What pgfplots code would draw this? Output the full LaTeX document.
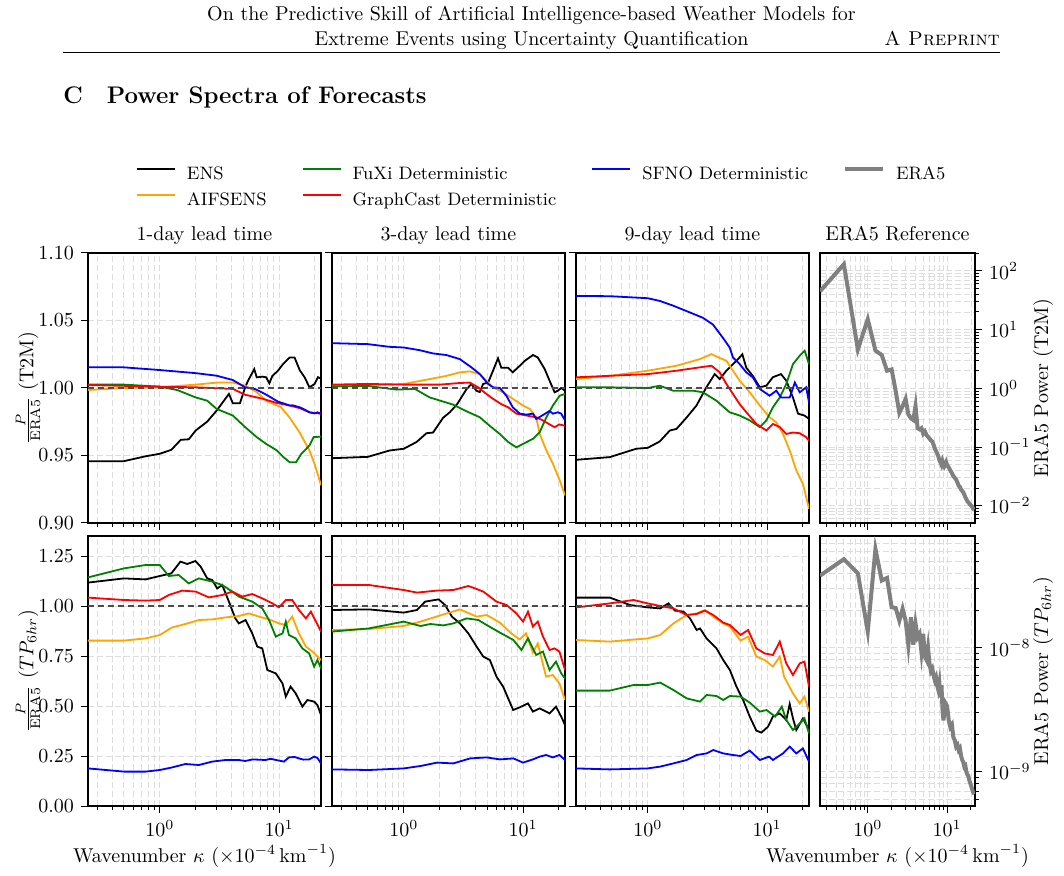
\documentclass[border=0pt]{standalone}
\usepackage{pgfplots}
\pgfplotsset{compat=1.18}
\definecolor{mplorange}{HTML}{FFA500}
\definecolor{mplgreen}{HTML}{008000}
\definecolor{mplred}{HTML}{FF0000}
\definecolor{mplblue}{HTML}{0000FF}
\definecolor{mplgray}{HTML}{808080}
\definecolor{gridc}{HTML}{DDDDDD}
\tikzset{
  sens/.style={black, line width=0.9pt},
  saif/.style={mplorange, line width=0.9pt},
  sfux/.style={mplgreen, line width=0.9pt},
  sgc/.style={mplred, line width=0.9pt},
  ssf/.style={mplblue, line width=0.9pt},
  sone/.style={black!70, line width=0.6pt, dash pattern=on 3pt off 2pt},
  sera/.style={mplgray, line width=2pt},
}
\begin{document}
\begin{tikzpicture}
\useasboundingbox (0pt,0pt) rectangle (532pt,-438pt);
% page header
\node[anchor=base, inner sep=0pt] at (265.75pt,-10.5pt) {On the Predictive Skill of Artificial Intelligence-based Weather Models for};
\node[anchor=base, inner sep=0pt] at (265.75pt,-23pt) {Extreme Events using Uncertainty Quantification};
\node[anchor=base east, inner sep=0pt] at (500pt,-23pt) {\textsc{A Preprint}};
\draw[line width=0.4pt] (31.5pt,-26pt) -- (500pt,-26pt);
\node[anchor=base west, inner sep=0pt] at (31.5pt,-52pt) {\large\bfseries C\quad Power Spectra of Forecasts};

% legend
\begin{axis}[at={(0pt,-438pt)}, anchor=south west, scale only axis, width=532pt, height=438pt,
  hide axis, xmin=0, xmax=1, ymin=0, ymax=1, legend columns=4, legend cell align=left,
  legend image code/.code={\draw[#1] (0pt,2.8pt) -- (19pt,2.8pt);},
  legend style={at={(0.1278,0.7855)}, anchor=west, draw=none, fill=none,
    inner sep=0pt, outer sep=0pt, row sep=4.5pt, font=\fontsize{9}{11}\selectfont,
    nodes={inner sep=0pt, text height=6.5pt, text depth=2pt},
    /tikz/every odd column/.append style={column sep=5.5pt},
    /tikz/every even column/.append style={column sep=17.5pt}}]
\addlegendimage{sens, line width=1pt}\addlegendentry{ENS}
\addlegendimage{sfux, line width=1pt}\addlegendentry{FuXi Deterministic}
\addlegendimage{ssf, line width=1pt}\addlegendentry{SFNO Deterministic}
\addlegendimage{sera}\addlegendentry{ERA5}
\addlegendimage{saif, line width=1pt}\addlegendentry{AIFSENS}
\addlegendimage{sgc, line width=1pt}\addlegendentry{GraphCast Deterministic}
\end{axis}

% ===== Row 1: T2M =====
\begin{axis}[at={(44pt,-126.5pt)}, anchor=north west,
  scale only axis, width=116.5pt, height=135pt,
  xmode=log, xmin=0.25, xmax=22.5, ymin=0.9, ymax=1.1,
  xtick={1,10}, minor xtick={0.3,0.4,0.5,0.6,0.7,0.8,0.9,2,3,4,5,6,7,8,9,20},
  ytick={0.9,0.95,1,1.05,1.1}, xticklabels={},
  yticklabel style={/pgf/number format/fixed, /pgf/number format/fixed zerofill, /pgf/number format/precision=2},
  tick align=outside, xtick pos=bottom, ytick pos=left,
  major tick length=3.5pt, minor tick length=2pt,
  tick style={black, line width=0.5pt}, axis line style={line width=0.7pt},
  xmajorgrids, xminorgrids, ymajorgrids,
  major grid style={line width=0.45pt, gridc, dash pattern=on 3pt off 1.5pt},
  minor grid style={line width=0.45pt, gridc, dash pattern=on 3pt off 1.5pt},
  title style={at={(0.5,1)}, anchor=base, yshift=0pt}, title={1-day lead time},
  ylabel style={at={(0,0.5)}, anchor=center, yshift=30pt},
  ylabel={$\frac{P}{\mathrm{ERA5}}$ (T2M)}]
\addplot[sens] coordinates {(0.25,0.9458) (0.5,0.9458) (0.75,0.9493) (1,0.9513) (1.25,0.9542) (1.5,0.9616) (1.75,0.962) (2,0.9685) (2.5,0.9751) (3,0.9833) (3.8,0.9956) (4.1,0.9887) (4.7,0.9887) (5.2,1.0005) (5.5,1.0054) (6.2,1.014) (6.5,1.0079) (7.3,1.0084) (7.8,1.0079) (8.3,1.0035) (8.8,1.009) (9.8,1.0128) (10.8,1.0177) (12.3,1.0226) (13.5,1.0226) (14.9,1.0133) (16.4,1.0079) (18,1.0005) (19.9,1.003) (21.2,1.008) (22.5,1.007)};
\addplot[saif] coordinates {(0.25,0.9985) (0.5,1.0) (1,1.0005) (2,1.0025) (3,1.004) (4.1,1.004) (5.2,1.0017) (6.5,0.997) (7.8,0.9906) (10.4,0.9857) (12.3,0.978) (14.9,0.967) (18,0.9537) (20,0.943) (22.5,0.928)};
\addplot[sfux] coordinates {(0.25,1.0025) (0.5,1.0025) (1,1.001) (1.4,0.9985) (2,0.993) (2.5,0.9906) (3,0.9845) (4.1,0.9796) (5.2,0.971) (6.5,0.9636) (7.8,0.9586) (9.5,0.954) (10.9,0.9488) (12.3,0.945) (13.9,0.945) (15.4,0.9513) (18,0.9574) (19.5,0.9636) (22.5,0.964)};
\addplot[sgc] coordinates {(0.25,1.0022) (1,1.001) (2,1.0005) (4.1,0.9993) (5.2,0.995) (7.3,0.992) (9.5,0.989) (12.3,0.987) (15,0.985) (18,0.982) (22.5,0.981)};
\addplot[ssf] coordinates {(0.25,1.0153) (0.5,1.0153) (1,1.0133) (2,1.011) (3,1.0091) (4.1,1.0059) (5.2,1.0005) (6.3,0.9993) (7.8,0.9951) (9.8,0.9899) (11,0.9885) (12.3,0.987) (13,0.9872) (14.9,0.9857) (16,0.9845) (18,0.982) (19,0.9815) (20,0.9812) (21,0.982) (22.5,0.9808)};
\addplot[sone] coordinates {(0.25,1) (22.5,1)};
\end{axis}

\begin{axis}[at={(166pt,-126.5pt)}, anchor=north west,
  scale only axis, width=116.5pt, height=135pt,
  xmode=log, xmin=0.25, xmax=22.5, ymin=0.9, ymax=1.1,
  xtick={1,10}, minor xtick={0.3,0.4,0.5,0.6,0.7,0.8,0.9,2,3,4,5,6,7,8,9,20},
  ytick={0.9,0.95,1,1.05,1.1}, xticklabels={}, yticklabels={},
  tick align=outside, xtick pos=bottom, ytick pos=left,
  major tick length=3.5pt, minor tick length=2pt,
  tick style={black, line width=0.5pt}, axis line style={line width=0.7pt},
  xmajorgrids, xminorgrids, ymajorgrids,
  major grid style={line width=0.45pt, gridc, dash pattern=on 3pt off 1.5pt},
  minor grid style={line width=0.45pt, gridc, dash pattern=on 3pt off 1.5pt},
  title style={at={(0.5,1)}, anchor=base, yshift=0pt}, title={3-day lead time}]
\addplot[sens] coordinates {(0.25,0.948) (0.5,0.949) (0.76,0.9537) (1,0.955) (1.28,0.96) (1.55,0.9665) (1.76,0.967) (2.14,0.978) (2.43,0.982) (2.8,0.988) (3.35,0.999) (3.69,1.003) (4.06,0.998) (4.34,0.997) (4.63,1.003) (5.1,1.004) (5.6,1.0128) (6.17,1.022) (6.58,1.015) (7.5,1.015) (8.2,1.0116) (9.4,1.0165) (10.3,1.02) (12.1,1.0244) (13.3,1.0226) (15.2,1.014) (16.7,1.0054) (18.4,0.9968) (19.6,0.998) (20.9,1.0) (22.5,0.998)};
\addplot[saif] coordinates {(0.25,1.0012) (0.5,1.002) (1,1.003) (1.65,1.0066) (2.28,1.009) (2.95,1.0116) (3.57,1.0123) (4.34,1.0103) (4.93,1.0054) (5.6,1.0005) (6.8,0.9968) (8.2,0.992) (10,0.987) (11.4,0.9845) (12.9,0.9783) (13.8,0.966) (15.7,0.9537) (17.8,0.944) (20.3,0.9316) (22.5,0.9205)};
\addplot[sfux] coordinates {(0.25,1.0012) (0.5,1.0015) (0.87,0.9988) (1.24,0.9993) (1.65,0.993) (2.59,0.9877) (3.35,0.9828) (4.34,0.9783) (5.25,0.972) (6.37,0.966) (7.5,0.96) (8.8,0.956) (10,0.9586) (12.1,0.9623) (13.8,0.9673) (15.7,0.9783) (17.8,0.987) (20.3,0.9943) (22.5,0.9956)};
\addplot[sgc] coordinates {(0.25,1.0025) (0.5,1.003) (1,1.0025) (2,1.0025) (2.95,1.0037) (3.57,1.004) (4.2,1.0005) (4.93,0.9956) (5.6,0.992) (6.58,0.988) (7.5,0.9857) (8.8,0.981) (10.7,0.9796) (12.9,0.9783) (14.7,0.976) (16.7,0.973) (18.4,0.971) (20.2,0.973) (22.5,0.972)};
\addplot[ssf] coordinates {(0.25,1.0332) (0.5,1.0325) (0.76,1.0305) (1,1.03) (1.36,1.028) (1.76,1.0256) (2.28,1.0244) (2.95,1.0214) (3.69,1.0153) (4.34,1.0103) (5.1,1.003) (5.6,1.0005) (6.4,1.0) (7.25,0.9943) (8.2,0.9857) (9.4,0.981) (10.7,0.9803) (12.1,0.981) (12.9,0.977) (14.7,0.98) (16.7,0.983) (17.8,0.981) (19.6,0.982) (20.9,0.981) (22.5,0.976)};
\addplot[sone] coordinates {(0.25,1) (22.5,1)};
\end{axis}

\begin{axis}[at={(288pt,-126.5pt)}, anchor=north west,
  scale only axis, width=116.5pt, height=135pt,
  xmode=log, xmin=0.25, xmax=22.5, ymin=0.9, ymax=1.1,
  xtick={1,10}, minor xtick={0.3,0.4,0.5,0.6,0.7,0.8,0.9,2,3,4,5,6,7,8,9,20},
  ytick={0.9,0.95,1,1.05,1.1}, xticklabels={}, yticklabels={},
  tick align=outside, xtick pos=bottom, ytick pos=left,
  major tick length=3.5pt, minor tick length=2pt,
  tick style={black, line width=0.5pt}, axis line style={line width=0.7pt},
  xmajorgrids, xminorgrids, ymajorgrids,
  major grid style={line width=0.45pt, gridc, dash pattern=on 3pt off 1.5pt},
  minor grid style={line width=0.45pt, gridc, dash pattern=on 3pt off 1.5pt},
  title style={at={(0.5,1)}, anchor=base, yshift=0pt}, title={9-day lead time}]
\addplot[sens] coordinates {(0.25,0.9468) (0.48,0.9488) (0.8,0.955) (1,0.9557) (1.26,0.9604) (1.53,0.9685) (1.74,0.9697) (2.11,0.978) (2.56,0.987) (3.1,1.0005) (3.64,1.0103) (4.01,1.0066) (4.56,1.0128) (5.18,1.0177) (5.53,1.02) (6.21,1.025) (6.7,1.015) (7.6,1.009) (8.7,1.0005) (9.87,1.0017) (11.2,1.008) (13.1,1.0103) (14.5,1.0054) (16.5,0.993) (18.2,0.981) (20.6,0.9796) (22.5,0.9771)};
\addplot[saif] coordinates {(0.25,1.0066) (0.48,1.009) (1,1.0128) (1.74,1.0165) (2.73,1.0214) (3.42,1.0251) (4.01,1.0222) (4.56,1.0202) (5.18,1.0128) (5.9,1.0054) (7.16,0.9968) (8.7,0.987) (10.5,0.9783) (11.96,0.9746) (13.6,0.966) (15.5,0.9537) (17.6,0.939) (20,0.929) (22.5,0.9106)};
\addplot[sfux] coordinates {(0.25,1.0005) (0.48,1.0005) (1,1.0) (1.26,1.0017) (1.63,0.998) (2.4,0.998) (2.9,0.9968) (3.76,0.9906) (4.86,0.982) (5.9,0.9796) (7.16,0.976) (8.7,0.971) (9.87,0.976) (11.2,0.9857) (12.8,0.993) (14.5,1.003) (16.5,1.0177) (18.8,1.0239) (20.7,1.0276) (22.5,1.0177)};
\addplot[sgc] coordinates {(0.25,1.0079) (1,1.0103) (1.74,1.0128) (2.73,1.0153) (3.42,1.0165) (4.01,1.0116) (4.56,1.003) (5.18,0.9956) (5.9,0.988) (6.71,0.982) (8.14,0.9734) (9.87,0.9685) (11.2,0.9734) (12.8,0.971) (14.5,0.966) (16.5,0.967) (18.8,0.9665) (21.3,0.9636) (22.5,0.961)};
\addplot[ssf] coordinates {(0.25,1.0682) (0.48,1.068) (1,1.0665) (1.26,1.0645) (1.63,1.061) (2.11,1.057) (2.9,1.052) (3.52,1.047) (4.28,1.037) (4.86,1.03) (5.18,1.0226) (5.9,1.0177) (6.7,1.0116) (7.6,1.0079) (8.7,0.9993) (10.5,0.9943) (11.96,0.998) (13.1,0.993) (15.5,0.993) (17.1,1.004) (18.8,0.9968) (21.3,1.0005) (22.5,0.9894)};
\addplot[sone] coordinates {(0.25,1) (22.5,1)};
\end{axis}

\begin{axis}[at={(410pt,-126.5pt)}, anchor=north west,
  scale only axis, width=77.5pt, height=135pt,
  xmode=log, ymode=log, xmin=0.25, xmax=22.5, ymin=0.0051, ymax=202,
  xtick={1,10}, minor xtick={0.3,0.4,0.5,0.6,0.7,0.8,0.9,2,3,4,5,6,7,8,9,20},
  ytick={0.01,0.1,1,10,100},
  minor ytick={0.006,0.007,0.008,0.009,0.02,0.03,0.04,0.05,0.06,0.07,0.08,0.09,0.2,0.3,0.4,0.5,0.6,0.7,0.8,0.9,2,3,4,5,6,7,8,9,20,30,40,50,60,70,80,90,200},
  xticklabels={},
  tick align=outside, xtick pos=bottom, ytick pos=right, yticklabel pos=right,
  major tick length=3.5pt, minor tick length=2pt,
  tick style={black, line width=0.5pt}, axis line style={line width=0.7pt},
  xmajorgrids, xminorgrids, ymajorgrids, yminorgrids,
  major grid style={line width=0.45pt, gridc, dash pattern=on 3pt off 1.5pt},
  minor grid style={line width=0.45pt, gridc, dash pattern=on 3pt off 1.5pt},
  title style={at={(0.5,1)}, anchor=base, yshift=0pt}, title={ERA5 Reference},
  ylabel style={at={(1,0.5)}, anchor=center, yshift=-34pt},
  ylabel={ERA5 Power (T2M)}]
\addplot[sera] coordinates {(0.25,45) (0.5,130) (0.75,4.6) (1,15) (1.25,4.4) (1.5,3.7) (1.75,2.0) (2,2.1) (2.25,0.9) (2.5,0.385) (2.75,0.5) (3,0.66) (3.25,0.36) (3.5,0.31) (3.75,0.29) (4,0.5) (4.25,0.21) (4.5,0.2) (4.75,0.21) (5,0.17) (5.25,0.185) (5.5,0.16) (5.75,0.15) (6,0.14) (6.25,0.13) (6.5,0.125) (6.75,0.11) (7,0.095) (7.25,0.085) (7.5,0.078) (7.75,0.07) (8,0.06) (8.25,0.055) (8.5,0.05) (8.75,0.058) (9,0.052) (9.25,0.047) (9.5,0.05) (9.75,0.055) (10,0.05) (10.5,0.045) (11,0.04) (11.5,0.036) (12,0.032) (12.5,0.03) (13,0.028) (13.5,0.025) (14,0.022) (14.5,0.021) (15,0.019) (15.5,0.018) (16,0.017) (16.5,0.0155) (17,0.014) (17.5,0.013) (18,0.012) (18.5,0.0115) (19,0.011) (19.5,0.0105) (20,0.0102) (20.5,0.0098) (21,0.0092) (21.5,0.0088) (22,0.0086)};
\end{axis}

% ===== Row 2: TP6hr =====
\begin{axis}[at={(44pt,-268pt)}, anchor=north west,
  scale only axis, width=116.5pt, height=135pt,
  xmode=log, xmin=0.25, xmax=22.5, ymin=0, ymax=1.35,
  xtick={1,10}, minor xtick={0.3,0.4,0.5,0.6,0.7,0.8,0.9,2,3,4,5,6,7,8,9,20},
  ytick={0,0.25,0.5,0.75,1,1.25},
  yticklabel style={/pgf/number format/fixed, /pgf/number format/fixed zerofill, /pgf/number format/precision=2},
  tick align=outside, xtick pos=bottom, ytick pos=left,
  major tick length=3.5pt, minor tick length=2pt,
  tick style={black, line width=0.5pt}, axis line style={line width=0.7pt},
  xmajorgrids, xminorgrids, ymajorgrids,
  major grid style={line width=0.45pt, gridc, dash pattern=on 3pt off 1.5pt},
  minor grid style={line width=0.45pt, gridc, dash pattern=on 3pt off 1.5pt},
  ylabel style={at={(0,0.5)}, anchor=center, yshift=30pt},
  ylabel={$\frac{P}{\mathrm{ERA5}}$ $(TP_{6hr})$},
  xlabel style={at={(0.5,0)}, anchor=base, yshift=-28pt},
  xlabel={Wavenumber $\kappa$ ($\times 10^{-4}\,\mathrm{km}^{-1}$)}]
\addplot[sens] coordinates {(0.25,1.117) (0.5,1.138) (0.76,1.133) (1,1.15) (1.25,1.163) (1.49,1.222) (1.7,1.21) (1.99,1.225) (2.2,1.197) (2.5,1.138) (2.75,1.13) (3.03,1.088) (3.34,1.105) (3.8,1.022) (4.3,0.938) (4.6,0.913) (5.24,0.93) (5.96,0.863) (6.58,0.797) (7.24,0.788) (7.98,0.68) (9.4,0.663) (10.7,0.613) (11.4,0.547) (12.5,0.597) (13.8,0.563) (15.7,0.497) (17.3,0.53) (19.7,0.522) (21,0.505) (22.5,0.455)};
\addplot[saif] coordinates {(0.25,0.827) (0.5,0.827) (0.76,0.838) (1,0.855) (1.27,0.893) (1.64,0.91) (2.13,0.93) (2.75,0.933) (3.56,0.943) (4.6,0.95) (5.6,0.963) (6.79,0.947) (8.24,0.933) (10,0.913) (11.4,0.905) (12.9,0.947) (14.7,0.863) (16.8,0.797) (19.1,0.772) (21,0.747) (22.5,0.73)};
\addplot[sfux] coordinates {(0.25,1.143) (0.5,1.188) (0.76,1.205) (1,1.205) (1.19,1.15) (1.44,1.155) (1.75,1.113) (2.13,1.138) (2.75,1.122) (3.34,1.105) (4.05,1.072) (4.6,1.047) (5.96,1.022) (7.24,0.988) (8.24,0.93) (9.4,0.847) (10.7,0.863) (11.4,0.922) (12.1,0.855) (13.8,0.838) (15.7,0.788) (17.9,0.763) (19.7,0.697) (21,0.73) (22.5,0.688)};
\addplot[sgc] coordinates {(0.25,1.042) (0.5,1.03) (0.76,1.027) (1,1.03) (1.19,1.055) (1.54,1.077) (2,1.072) (2.58,1.043) (3.34,1.055) (4.05,1.072) (4.92,1.047) (5.96,1.06) (7.24,1.038) (8.8,1.013) (10,0.993) (11.4,1.03) (12.9,1.03) (14.7,0.98) (16.8,0.938) (18.5,0.972) (20.4,0.922) (22.5,0.872)};
\addplot[ssf] coordinates {(0.25,0.188) (0.5,0.172) (0.76,0.172) (1,0.18) (1.27,0.193) (1.64,0.21) (2.13,0.205) (2.75,0.222) (3.56,0.23) (4.6,0.23) (5.2,0.225) (6,0.233) (7.7,0.23) (8.5,0.236) (10,0.227) (11,0.222) (12.1,0.243) (13.5,0.245) (14.7,0.238) (16,0.232) (17.9,0.233) (19.7,0.247) (21,0.24) (22.5,0.213)};
\addplot[sone] coordinates {(0.25,1) (22.5,1)};
\end{axis}

\begin{axis}[at={(166pt,-268pt)}, anchor=north west,
  scale only axis, width=116.5pt, height=135pt,
  xmode=log, xmin=0.25, xmax=22.5, ymin=0, ymax=1.35,
  xtick={1,10}, minor xtick={0.3,0.4,0.5,0.6,0.7,0.8,0.9,2,3,4,5,6,7,8,9,20},
  ytick={0,0.25,0.5,0.75,1,1.25}, yticklabels={},
  tick align=outside, xtick pos=bottom, ytick pos=left,
  major tick length=3.5pt, minor tick length=2pt,
  tick style={black, line width=0.5pt}, axis line style={line width=0.7pt},
  xmajorgrids, xminorgrids, ymajorgrids,
  major grid style={line width=0.45pt, gridc, dash pattern=on 3pt off 1.5pt},
  minor grid style={line width=0.45pt, gridc, dash pattern=on 3pt off 1.5pt}]
\addplot[sens] coordinates {(0.25,0.98) (0.51,0.983) (1,0.967) (1.29,0.98) (1.51,1.022) (1.96,1.033) (2.22,1.005) (2.53,0.947) (2.96,0.913) (3.48,0.863) (4.08,0.797) (4.64,0.747) (5.27,0.73) (5.99,0.647) (6.81,0.597) (8.26,0.48) (9.36,0.493) (11,0.513) (12.1,0.472) (13.8,0.488) (16.7,0.463) (18.9,0.497) (20.9,0.447) (22.5,0.405)};
\addplot[saif] coordinates {(0.25,0.88) (0.51,0.885) (1,0.9) (1.38,0.922) (2.15,0.958) (2.96,0.983) (4.08,0.947) (4.95,0.955) (6.4,0.917) (7.98,0.863) (9.36,0.833) (10.6,0.863) (12.1,0.767) (13.3,0.813) (15.6,0.647) (17.8,0.655) (20.2,0.613) (22.5,0.53)};
\addplot[sfux] coordinates {(0.25,0.872) (0.51,0.888) (1,0.922) (1.38,0.9) (1.67,0.91) (2.15,0.903) (2.6,0.913) (3.37,0.938) (4.22,0.93) (4.95,0.905) (6.4,0.867) (8.3,0.83) (9.7,0.78) (11,0.838) (12.9,0.755) (14.7,0.772) (16.7,0.68) (18.9,0.722) (20.9,0.663) (22.5,0.638)};
\addplot[sgc] coordinates {(0.25,1.105) (0.51,1.105) (1,1.08) (1.29,1.067) (1.9,1.077) (2.6,1.08) (3.48,1.1) (3.96,1.088) (4.64,1.072) (5.99,1.022) (7.27,1.005) (8.8,0.963) (10,0.922) (11,0.972) (12.1,0.897) (13.3,0.922) (14.7,0.847) (16.7,0.78) (18.4,0.788) (20.2,0.772) (22.5,0.68)};
\addplot[ssf] coordinates {(0.25,0.183) (0.51,0.18) (1,0.188) (1.38,0.2) (1.9,0.217) (2.6,0.213) (3.6,0.238) (4.95,0.243) (6.4,0.233) (8.3,0.238) (10,0.217) (12.1,0.233) (13.8,0.247) (15.6,0.255) (17.8,0.243) (20.2,0.255) (22.5,0.23)};
\addplot[sone] coordinates {(0.25,1) (22.5,1)};
\end{axis}

\begin{axis}[at={(288pt,-268pt)}, anchor=north west,
  scale only axis, width=116.5pt, height=135pt,
  xmode=log, xmin=0.25, xmax=22.5, ymin=0, ymax=1.35,
  xtick={1,10}, minor xtick={0.3,0.4,0.5,0.6,0.7,0.8,0.9,2,3,4,5,6,7,8,9,20},
  ytick={0,0.25,0.5,0.75,1,1.25}, yticklabels={},
  tick align=outside, xtick pos=bottom, ytick pos=left,
  major tick length=3.5pt, minor tick length=2pt,
  tick style={black, line width=0.5pt}, axis line style={line width=0.7pt},
  xmajorgrids, xminorgrids, ymajorgrids,
  major grid style={line width=0.45pt, gridc, dash pattern=on 3pt off 1.5pt},
  minor grid style={line width=0.45pt, gridc, dash pattern=on 3pt off 1.5pt}]
\addplot[sens] coordinates {(0.25,1.042) (0.48,1.042) (0.71,1.005) (1,0.993) (1.27,0.988) (1.49,1.013) (1.69,0.977) (1.99,0.972) (2.26,0.938) (2.57,0.88) (2.74,0.888) (3.11,0.838) (3.77,0.788) (4.29,0.73) (4.88,0.68) (5.54,0.597) (6.3,0.53) (7.16,0.447) (8.14,0.377) (8.98,0.367) (10.2,0.397) (11.2,0.447) (12.8,0.463) (14.5,0.43) (15.5,0.51) (16.5,0.438) (17.6,0.38) (20,0.438) (22.5,0.38)};
\addplot[saif] coordinates {(0.25,0.83) (0.48,0.822) (1,0.838) (1.27,0.855) (1.64,0.913) (2.12,0.955) (2.57,0.963) (3.01,0.98) (3.54,0.947) (4.29,0.913) (4.88,0.897) (6,0.827) (6.94,0.847) (8.14,0.747) (9.55,0.73) (11.2,0.697) (12.8,0.747) (13.9,0.647) (16.5,0.563) (18.8,0.513) (20.6,0.547) (22.5,0.472)};
\addplot[sfux] coordinates {(0.25,0.577) (0.48,0.577) (0.76,0.605) (1,0.605) (1.27,0.617) (1.64,0.58) (2.12,0.538) (2.74,0.522) (3.11,0.555) (3.77,0.55) (4.29,0.53) (4.88,0.55) (6,0.547) (7.16,0.517) (8.7,0.472) (9.9,0.48) (11.7,0.447) (13.3,0.497) (14.5,0.43) (16.5,0.38) (18.8,0.413) (20.6,0.438) (22.5,0.363)};
\addplot[sgc] coordinates {(0.25,0.993) (0.48,1.013) (0.76,1.03) (1,1.013) (1.27,1.0) (1.64,0.988) (2.12,0.955) (2.57,0.96) (3.01,0.977) (3.54,0.955) (4.29,0.917) (4.88,0.905) (6,0.855) (6.94,0.88) (8.14,0.788) (9.55,0.763) (11.2,0.755) (12.8,0.822) (14.5,0.713) (16.5,0.655) (18.8,0.713) (20.6,0.722) (22.5,0.597)};
\addplot[ssf] coordinates {(0.25,0.188) (0.48,0.183) (1,0.188) (1.27,0.197) (1.64,0.213) (2.12,0.23) (2.57,0.255) (3.11,0.263) (3.54,0.28) (4.29,0.263) (5.18,0.255) (6,0.25) (7.16,0.277) (8.7,0.23) (10.4,0.247) (11.2,0.23) (13.6,0.263) (15.5,0.297) (17.6,0.263) (20,0.288) (22.5,0.222)};
\addplot[sone] coordinates {(0.25,1) (22.5,1)};
\end{axis}

\begin{axis}[at={(410pt,-268pt)}, anchor=north west,
  scale only axis, width=77.5pt, height=135pt,
  xmode=log, ymode=log, xmin=0.25, xmax=22.5, ymin=5.3e-10, ymax=8.0e-8,
  xtick={1,10}, minor xtick={0.3,0.4,0.5,0.6,0.7,0.8,0.9,2,3,4,5,6,7,8,9,20},
  ytick={1e-9,1e-8},
  minor ytick={6e-10,7e-10,8e-10,9e-10,2e-9,3e-9,4e-9,5e-9,6e-9,7e-9,8e-9,9e-9,2e-8,3e-8,4e-8,5e-8,6e-8,7e-8},
  tick align=outside, xtick pos=bottom, ytick pos=right, yticklabel pos=right,
  major tick length=3.5pt, minor tick length=2pt,
  tick style={black, line width=0.5pt}, axis line style={line width=0.7pt},
  xmajorgrids, xminorgrids, ymajorgrids, yminorgrids,
  major grid style={line width=0.45pt, gridc, dash pattern=on 3pt off 1.5pt},
  minor grid style={line width=0.45pt, gridc, dash pattern=on 3pt off 1.5pt},
  ylabel style={at={(1,0.5)}, anchor=center, yshift=-34pt},
  ylabel={ERA5 Power ($TP_{6hr}$)},
  xlabel style={at={(0.5,0)}, anchor=base, yshift=-28pt},
  xlabel={Wavenumber $\kappa$ ($\times 10^{-4}\,\mathrm{km}^{-1}$)}]
\addplot[sera] coordinates {(0.25,3.83e-8) (0.5,5.2e-8) (0.75,4.0e-8) (1,1.36e-8) (1.25,6.27e-8) (1.5,3.5e-8) (1.75,3.67e-8) (2,2.13e-8) (2.25,2.1e-8) (2.5,1.66e-8) (2.75,2.07e-8) (3,1.66e-8) (3.25,1.05e-8) (3.5,1.77e-8) (3.75,1.06e-8) (4,1.57e-8) (4.25,1.22e-8) (4.5,1.3e-8) (4.75,9.3e-9) (5,1.3e-8) (5.25,8.5e-9) (5.5,8e-9) (5.75,1.0e-8) (6,7.5e-9) (6.25,6.5e-9) (6.5,6.8e-9) (6.75,6.0e-9) (7,5.5e-9) (7.25,5.8e-9) (7.5,5.0e-9) (7.75,4.6e-9) (8,5.2e-9) (8.25,4.0e-9) (8.5,5.0e-9) (8.75,3.2e-9) (9,2.6e-9) (9.5,3.6e-9) (10,3.4e-9) (10.5,2.6e-9) (11,2.3e-9) (11.5,2.4e-9) (12,1.9e-9) (12.5,1.8e-9) (13,1.6e-9) (13.5,1.65e-9) (14,1.5e-9) (14.5,1.55e-9) (15,1.35e-9) (15.5,1.25e-9) (16,1.2e-9) (16.5,1.1e-9) (17,1.12e-9) (17.5,1.0e-9) (18,9.5e-10) (18.5,9.3e-10) (19,8.6e-10) (19.5,8.2e-10) (20,7.8e-10) (20.5,7.4e-10) (21,7.0e-10) (21.5,6.8e-10) (22,6.6e-10)};
\end{axis}
\end{tikzpicture}
\end{document}
